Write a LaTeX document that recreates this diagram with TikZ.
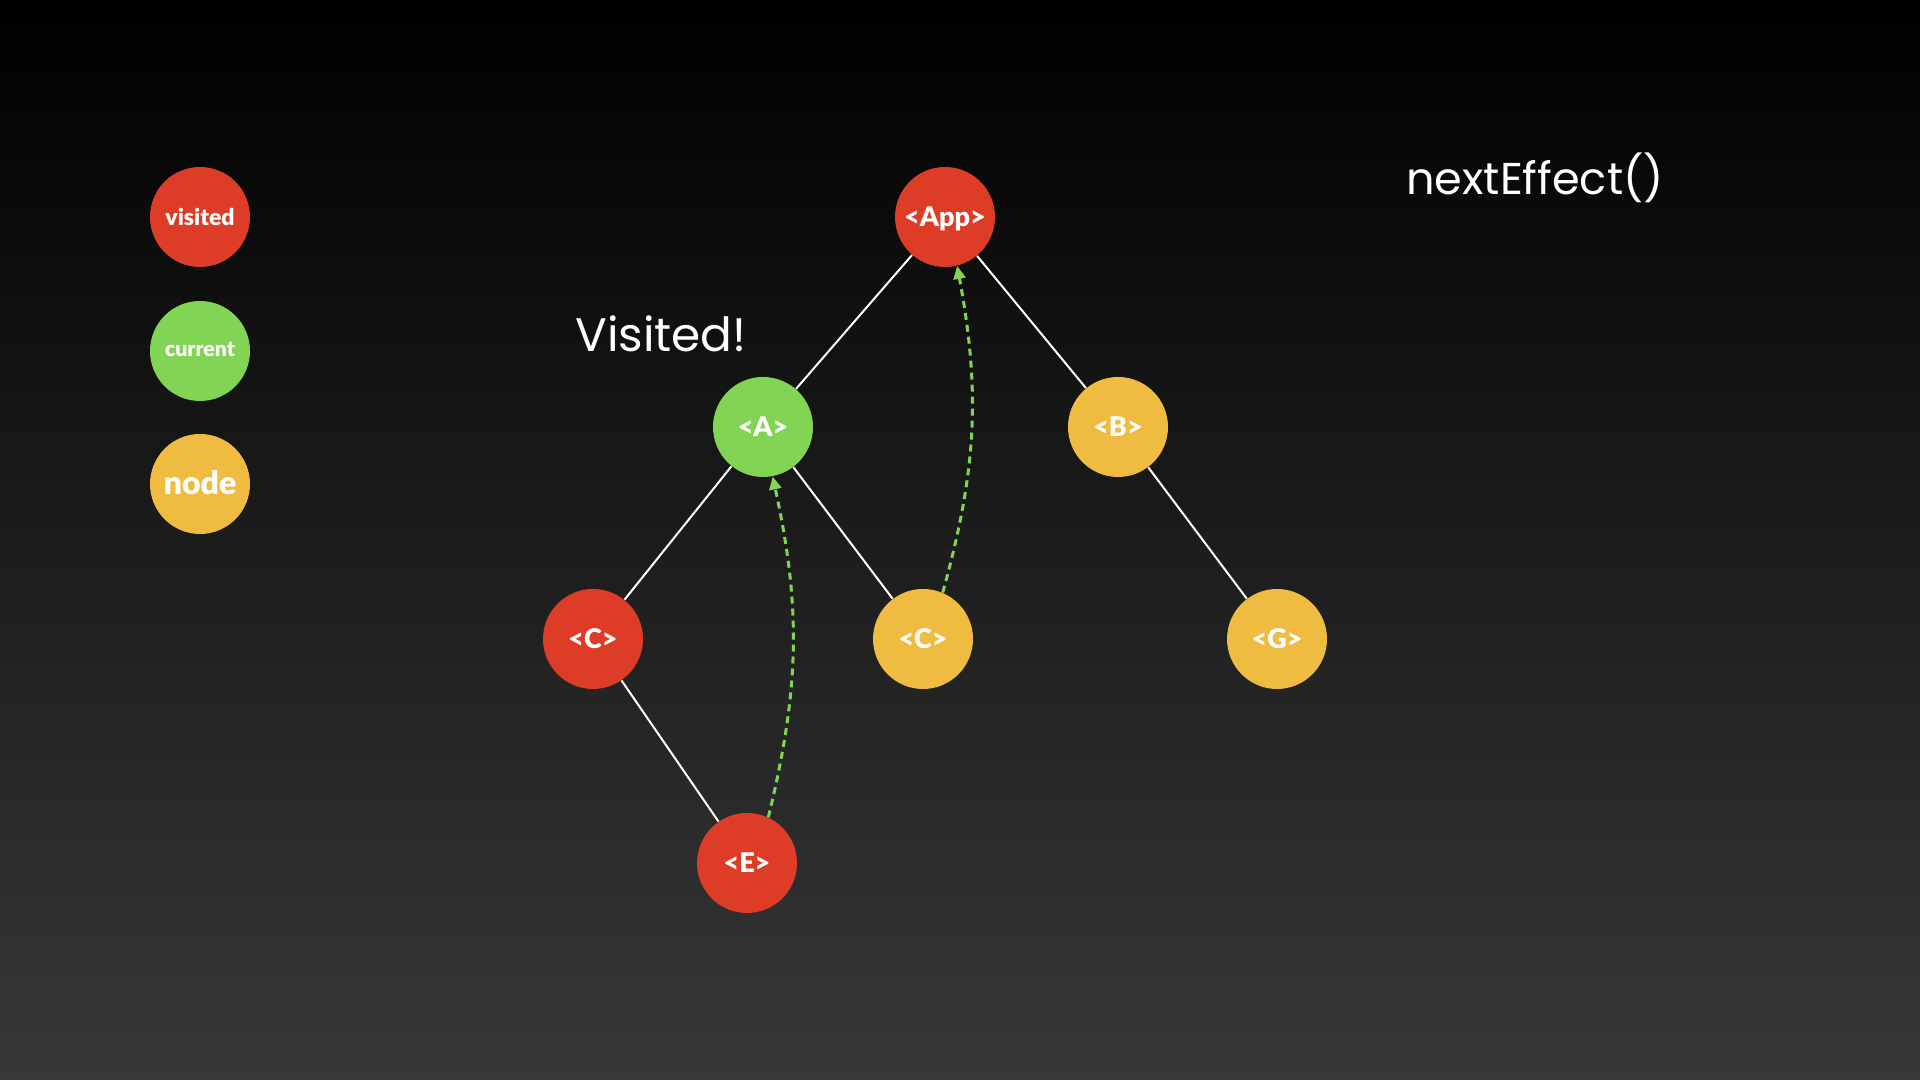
\documentclass[tikz,border=0pt]{standalone}
\usepackage{fontspec}
\setmainfont{Poppins}
\newfontfamily\labelfont{Lato}[BoldFont={Lato Black}]
\usetikzlibrary{arrows.meta}
\definecolor{vred}{RGB}{221,61,39}
\definecolor{cgreen}{RGB}{130,212,85}
\definecolor{nyellow}{RGB}{239,187,64}
\definecolor{bgbot}{RGB}{56,56,56}
\begin{document}
\begin{tikzpicture}[x=0.5pt,y=0.5pt,
  dot/.style={circle,minimum size=50pt,inner sep=0pt,text=white,text height=9.7pt,text depth=0pt,font=\labelfont\bfseries\fontsize{13.5}{15}\selectfont},
  red dot/.style={dot,fill=vred},
  green dot/.style={dot,fill=cgreen},
  yellow dot/.style={dot,fill=nyellow},
  tree/.style={draw=white,line width=1pt},
  flow/.style={draw=cgreen,line width=1.5pt,dash pattern=on 3.5pt off 2.5pt,-{Triangle[length=6.5pt,width=6pt]}},
  title/.style={text=white,inner sep=0pt,anchor=base}]
\shade[top color=black,bottom color=bgbot] (0,0) rectangle (1920,1080);
\useasboundingbox (0,0) rectangle (1920,1080);
% legend
\node[red dot,font=\labelfont\bfseries\fontsize{11.5}{13}\selectfont,text height=8.4pt] (lv) at (200,863) {visited};
\node[green dot,font=\labelfont\bfseries\fontsize{10.6}{12}\selectfont,text height=5.8pt] (lc) at (200,729) {current};
\node[yellow dot,font=\labelfont\bfseries\fontsize{16}{18}\selectfont,text height=10.5pt] (ln) at (200,596) {node};
% tree
\node[red dot] (app) at (945,863) {<App>};
\node[green dot] (a) at (763,653) {<A>};
\node[yellow dot] (b) at (1118,653) {<B>};
\node[red dot] (c1) at (593,441) {<C>};
\node[yellow dot] (c2) at (923,441) {<C>};
\node[yellow dot] (g) at (1277,441) {<G>};
\node[red dot] (e) at (747,217) {<E>};
\draw[tree] (app) -- (a);
\draw[tree] (app) -- (b);
\draw[tree] (a) -- (c1);
\draw[tree] (a) -- (c2);
\draw[tree] (b) -- (g);
\draw[tree] (c1) -- (e);
\draw[flow] (e.65) to[bend right=13] (a.-79);
\draw[flow] (c2.67) to[bend right=13] (app.-76);
% texts
\node[title,font=\fontsize{23.5}{27}\selectfont] (vis) at (661,728) {Visited!};
\node[title,font=\fontsize{22.3}{26}\selectfont] (ne) at (1535,885) {nextEffect()};
\end{tikzpicture}
\end{document}
